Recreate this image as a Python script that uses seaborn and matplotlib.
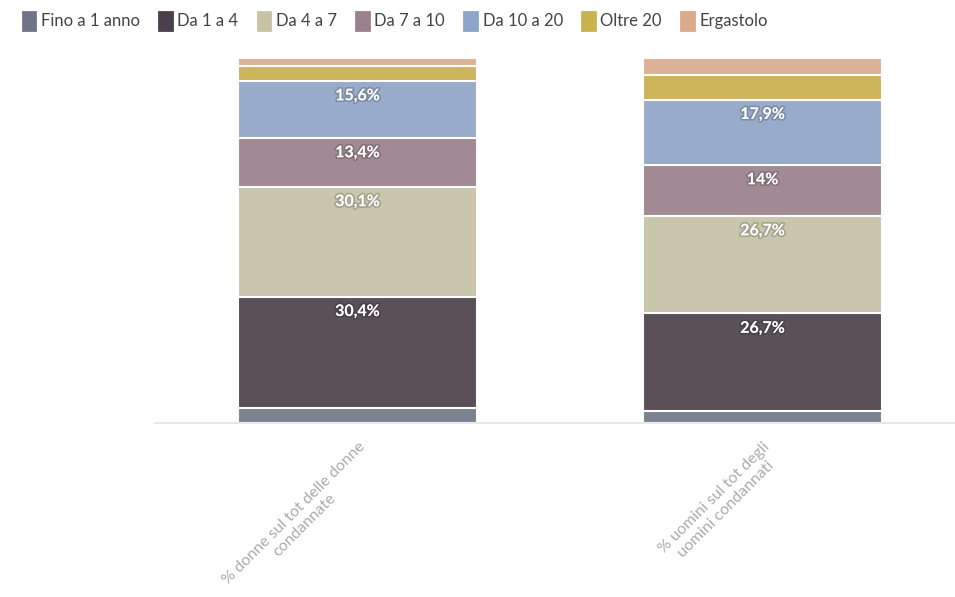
import numpy as np
import pandas as pd
import seaborn as sns
import matplotlib.pyplot as plt
import matplotlib.patheffects as pe
from matplotlib.patches import Patch

groups = ['% donne sul tot delle donne\ncondannate',
          '% uomini sul tot degli\nuomini condannati']
brackets = ['Fino a 1 anno', 'Da 1 a 4', 'Da 4 a 7', 'Da 7 a 10',
            'Da 10 a 20', 'Oltre 20', 'Ergastolo']
donne = [4.2, 30.4, 30.1, 13.4, 15.6, 4.2, 2.1]
uomini = [3.3, 26.7, 26.7, 14.0, 17.9, 6.6, 4.8]
labelled = ['Da 1 a 4', 'Da 4 a 7', 'Da 7 a 10', 'Da 10 a 20']
colors = ['#7d8290', '#5a5158', '#c8c7ad', '#a18a93', '#98abca', '#cdb55b', '#ddb196']
legend_colors = ['#6f7586', '#4b3f4a', '#c6c4a6', '#9c818c', '#8ca6cb', '#cab34f', '#d9aa8b']

df = pd.DataFrame({'gruppo': np.repeat(groups, len(brackets)),
                   'durata': brackets * 2,
                   'valore': donne + uomini})
df['cum'] = df.groupby('gruppo')['valore'].cumsum()

sns.set_style('white')
plt.rcParams['font.family'] = ['Lato', 'DejaVu Sans']

fig = plt.figure(figsize=(9.55, 5.97), dpi=100)
ax = fig.add_axes([0.1623, 0.2915, 0.8377, 0.6114])

# stacked bars: draw cumulative totals from the top segment down
for b, c in reversed(list(zip(brackets, colors))):
    sub = df[df.durata == b]
    sns.barplot(data=sub, x='gruppo', y='cum', order=groups, color=c,
                saturation=1, width=0.59, errorbar=None,
                edgecolor='white', linewidth=1.5, ax=ax)

for _, r in df[df.durata.isin(labelled)].iterrows():
    xi = groups.index(r.gruppo)
    txt = f"{r.valore:g}".replace('.', ',') + '%'
    ax.annotate(txt, (xi, r.cum), xytext=(0, -6), textcoords='offset points',
                ha='center', va='top', color='white', fontweight='bold',
                fontsize=11.5,
                path_effects=[pe.withStroke(linewidth=2.5, foreground=(0, 0, 0, 0.18))])

ax.set_xlim(-0.5, 1.475)
ax.set_ylim(0, 100)
ax.set_xlabel('')
ax.set_ylabel('')
ax.set_yticks([])
for s in ['top', 'left', 'right']:
    ax.spines[s].set_visible(False)
ax.spines['bottom'].set_color('#e8e8e8')
ax.spines['bottom'].set_linewidth(1.5)
ax.tick_params(axis='x', length=8, width=1, color='#e4e4e4',
               labelcolor='#ababab', labelsize=11.5, pad=4)
plt.setp(ax.get_xticklabels(), rotation=45, ha='right', va='top',
         rotation_mode='anchor', multialignment='center')

handles = [Patch(facecolor=c, edgecolor=c, linewidth=2, joinstyle='round')
           for c in legend_colors]
fig.legend(handles, brackets, loc='upper left', bbox_to_anchor=(0.008, 1.005),
           ncol=7, frameon=False, handlelength=0.75, handleheight=1.25,
           handletextpad=0.35, columnspacing=1.15, fontsize=12,
           labelcolor='#444444')

fig.savefig('out.png', dpi=100)
